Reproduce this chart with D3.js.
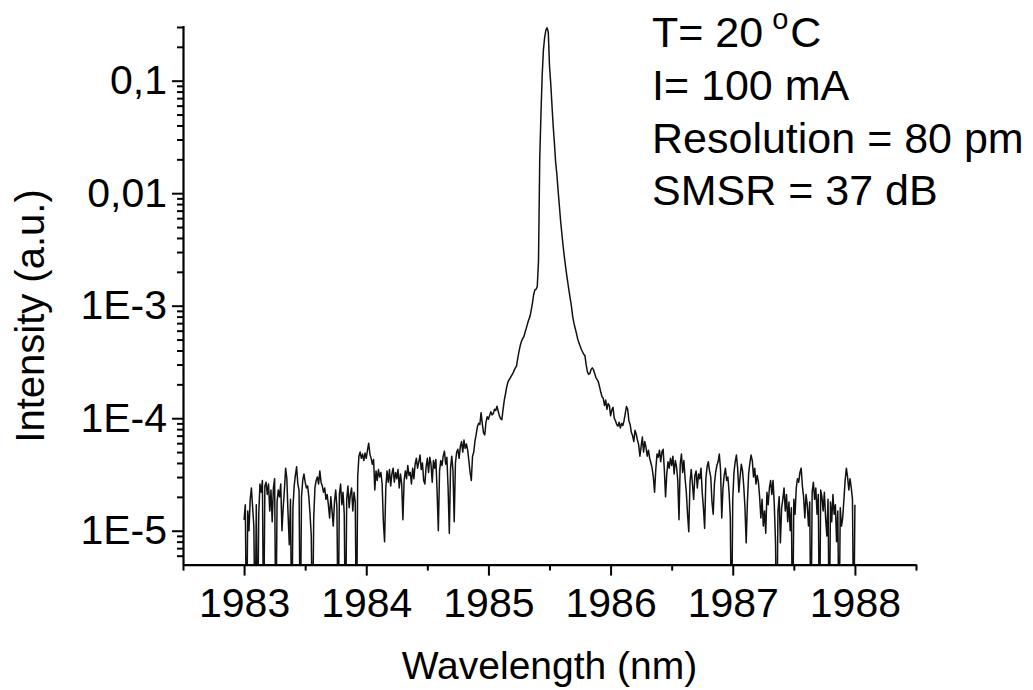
<!DOCTYPE html>
<html><head><meta charset="utf-8">
<script src="https://cdn.jsdelivr.net/npm/d3@7"></script>
<style>
body{margin:0;background:#fff;}
text{font-family:"Liberation Sans", Arial, sans-serif;fill:#000;}
</style>
</head><body>
<svg id="chart" width="1033" height="690"></svg>
<script>
// ---- data ----
const wavelengthStart = 1983.0;   // nm, first sample
const wavelengthStep = 0.01;      // nm, sample spacing
const intensity = [
  // 1983.0x
  1.25e-5,1.7e-5,1e-6,1.5e-5,1.0e-5,1.9e-5,2.4e-5,1.6e-5,1.1e-5,1e-6,
  1.7e-5,1e-6,1.4e-5,2.6e-5,2.2e-5,2.8e-5,1e-6,2.5e-5,2.7e-5,2.1e-5,
  2.6e-5,1.5e-5,2.3e-5,1.2e-5,2.4e-5,2.9e-5,1e-6,1.8e-5,2.3e-5,2.0e-5,
  2.6e-5,1.0e-5,1.6e-5,2.3e-5,3.6e-5,2.9e-5,1.4e-5,7.5e-6,1.9e-5,1e-6,
  1.6e-5,2.5e-5,3.1e-5,3.7e-5,2.6e-5,2.3e-5,1e-6,2.0e-5,2.8e-5,3.2e-5,
  2.7e-5,2.4e-5,2.5e-5,2.0e-5,1.4e-5,9e-6,1e-6,1.3e-5,2.4e-5,2.8e-5,
  3.0e-5,2.6e-5,3.4e-5,2.7e-5,2.5e-5,2.2e-5,2.4e-5,1.9e-5,2.1e-5,1.7e-5,
  1.3e-5,2.0e-5,1.5e-5,1.1e-5,1.8e-5,2.3e-5,1.6e-5,1e-6,2.1e-5,2.6e-5,
  1.7e-5,2.2e-5,1.4e-5,1e-6,1.9e-5,2.5e-5,1.6e-5,2.1e-5,2.4e-5,1.5e-5,
  2.2e-5,1.8e-5,1e-6,3.0e-5,4.6e-5,5.0e-5,4.4e-5,4.8e-5,4.2e-5,4.9e-5,
  // 1984.0x
  4.4e-5,5.2e-5,6.0e-5,4.8e-5,4.4e-5,3.9e-5,4.3e-5,2.3e-5,3.4e-5,2.8e-5,
  3.5e-5,3.0e-5,3.3e-5,2.6e-5,1.2e-5,8e-6,2.4e-5,3.4e-5,2.7e-5,3.5e-5,
  2.5e-5,3.2e-5,3.6e-5,2.7e-5,3.3e-5,2.9e-5,3.5e-5,2.4e-5,3.2e-5,2.6e-5,
  1.25e-5,2.8e-5,3.4e-5,2.9e-5,3.8e-5,3.1e-5,3.3e-5,2.6e-5,3.6e-5,2.9e-5,
  3.9e-5,4.4e-5,3.6e-5,4.1e-5,4.7e-5,3.5e-5,4.0e-5,2.8e-5,2.6e-5,3.7e-5,
  4.4e-5,3.3e-5,4.5e-5,3.9e-5,2.7e-5,4.2e-5,3.6e-5,4.3e-5,2.2e-5,1.0e-5,
  3.4e-5,4.2e-5,3.8e-5,4.6e-5,5.1e-5,3.9e-5,4.5e-5,2.4e-5,9.5e-6,3.6e-5,
  4.6e-5,3.4e-5,1.2e-5,4.0e-5,5.0e-5,5.3e-5,4.4e-5,5.6e-5,6.2e-5,5.0e-5,
  6.4e-5,5.4e-5,5.9e-5,5.2e-5,4.2e-5,3.3e-5,2.8e-5,4.6e-5,5.0e-5,6.3e-5,
  7.2e-5,8.4e-5,9.0e-5,8.8e-5,1.12e-4,8.9e-5,7.4e-5,7.1e-5,9.2e-5,1.03e-4,
  // 1985.0x
  9.8e-5,1.06e-4,1.14e-4,1.07e-4,1.10e-4,1.20e-4,1.17e-4,1.28e-4,1.16e-4,1.05e-4,
  9.9e-5,9.7e-5,1.20e-4,1.45e-4,1.65e-4,1.9e-4,2.1e-4,2.2e-4,2.3e-4,2.4e-4,
  2.5e-4,2.65e-4,2.8e-4,2.9e-4,3.4e-4,3.9e-4,4.4e-4,4.8e-4,5.1e-4,5.3e-4,
  5.8e-4,6.3e-4,6.9e-4,7.5e-4,8.0e-4,9.1e-4,1.05e-3,1.25e-3,1.38e-3,1.40e-3,
  1.48e-3,2.5e-3,2.0e-2,5.0e-2,0.11,0.187,0.24,0.28,0.295,0.27,
  0.135,0.095,0.061,0.040,0.028,0.019,0.0148,0.0107,0.0079,0.0058,
  4.5e-3,3.5e-3,2.8e-3,2.3e-3,1.9e-3,1.6e-3,1.35e-3,1.15e-3,9.8e-4,8.0e-4,
  7.0e-4,6.3e-4,5.7e-4,5.1e-4,4.7e-4,4.4e-4,4.1e-4,3.9e-4,3.7e-4,3.6e-4,
  3.0e-4,2.6e-4,2.45e-4,2.5e-4,2.7e-4,2.8e-4,2.7e-4,2.5e-4,2.3e-4,2.2e-4,
  2.1e-4,1.9e-4,1.7e-4,1.55e-4,1.5e-4,1.3e-4,1.45e-4,1.2e-4,1.35e-4,1.3e-4,
  // 1986.0x
  1.05e-4,1.18e-4,1.25e-4,1.0e-4,9.5e-5,8.8e-5,8.5e-5,9.2e-5,8.2e-5,9.0e-5,
  8.6e-5,9.5e-5,1.1e-4,1.27e-4,1.2e-4,9.5e-5,8.8e-5,7.5e-5,7.0e-5,6.2e-5,
  7.8e-5,7.2e-5,6.4e-5,5.8e-5,4.6e-5,5.6e-5,6.8e-5,5.0e-5,6.2e-5,5.5e-5,
  4.6e-5,5.2e-5,4.4e-5,4.0e-5,3.6e-5,3.0e-5,2.2e-5,3.5e-5,4.8e-5,4.5e-5,
  5.2e-5,4.1e-5,5.0e-5,5.3e-5,3.5e-5,2.0e-5,3.2e-5,4.1e-5,3.6e-5,4.4e-5,
  3.8e-5,4.6e-5,3.2e-5,4.2e-5,3.7e-5,2.8e-5,1.25e-5,3.9e-5,4.8e-5,3.3e-5,
  4.2e-5,2.9e-5,2.2e-5,1.4e-5,9.8e-6,2.7e-5,3.5e-5,2.6e-5,1.9e-5,3.1e-5,
  3.4e-5,2.4e-5,3.2e-5,2.9e-5,3.6e-5,2.2e-5,1.6e-5,1.05e-5,2.9e-5,3.7e-5,
  4.1e-5,3.4e-5,3.0e-5,1.8e-5,1.4e-5,2.6e-5,3.3e-5,3.8e-5,4.1e-5,4.8e-5,
  3.5e-5,1.3e-5,2.4e-5,3.1e-5,3.6e-5,2.8e-5,3.0e-5,2.2e-5,1.3e-5,1e-6,
  // 1987.0x
  1.9e-5,3.3e-5,4.1e-5,4.7e-5,3.6e-5,2.2e-5,3.0e-5,3.9e-5,3.4e-5,2.5e-5,
  1.6e-5,7.8e-6,1.8e-5,3.2e-5,4.0e-5,4.7e-5,4.2e-5,3.0e-5,3.6e-5,2.6e-5,
  3.1e-5,2.7e-5,2.0e-5,1.3e-5,1.9e-5,1.1e-5,1.5e-5,9.5e-6,2.2e-5,1.7e-5,
  2.4e-5,2.8e-5,2.1e-5,2.8e-5,1.7e-5,8e-6,1e-6,1.5e-5,2.0e-5,7.8e-6,
  1.6e-5,1.9e-5,2.4e-5,1.5e-5,2.1e-5,1.2e-5,1.8e-5,1.0e-5,1.6e-5,1e-6,
  1.9e-5,1.4e-5,2.4e-5,2.9e-5,2.7e-5,3.3e-5,3.6e-5,2.5e-5,2.0e-5,1.3e-5,
  2.1e-5,1.7e-5,1.1e-5,1.8e-5,1e-6,2.2e-5,2.7e-5,1.9e-5,2.4e-5,1.4e-5,
  2.1e-5,1e-6,2.3e-5,2.0e-5,1.5e-5,2.2e-5,1.3e-5,9e-6,1.9e-5,1e-6,
  1.8e-5,1.2e-5,2.1e-5,1.4e-5,1.7e-5,8e-6,1.5e-5,1e-6,1.6e-5,1.1e-5,
  1.3e-5,1.9e-5,2.8e-5,3.6e-5,3.0e-5,2.3e-5,2.9e-5,2.4e-5,1.9e-5,1e-6,
  // 1988.00
  1.7e-5
];

const xTicksMajor = [1983, 1984, 1985, 1986, 1987, 1988];
const xTicksMinor = [1982.5, 1983.5, 1984.5, 1985.5, 1986.5, 1987.5, 1988.5];
const yTicksMajor = [1e-5, 1e-4, 1e-3, 0.01, 0.1];
const yTickLabels = ["1E-5", "1E-4", "1E-3", "0,01", "0,1"];
const xTitle = "Wavelength (nm)";
const yTitle = "Intensity (a.u.)";
const notes = ["I= 100 mA", "Resolution = 80 pm", "SMSR = 37 dB"];

// ---- layout ----
const svg = d3.select("#chart");
const plotL = 183, plotR = 916, plotT = 25.4, plotB = 564.6;
const x = d3.scaleLinear().domain([1982.5, 1988.5]).range([plotL, plotR]);
const y = d3.scaleLog().domain([5e-6, 0.31]).range([plotB, plotT]);

// minor log ticks 2..9 per decade within domain
const yTicksMinor = [];
for (let e = -6; e <= -1; e++) {
  for (let m = 2; m <= 9; m++) {
    const v = m * Math.pow(10, e);
    if (v >= 5e-6 && v <= 0.31) yTicksMinor.push(v);
  }
}

svg.append("defs").append("clipPath").attr("id", "plotclip")
  .append("rect").attr("x", plotL).attr("y", plotT - 2)
  .attr("width", plotR - plotL).attr("height", plotB - plotT + 2);

// spectrum line
const line = d3.line()
  .x((d, i) => x(wavelengthStart + i * wavelengthStep))
  .y(d => y(d));
svg.append("path")
  .datum(intensity)
  .attr("clip-path", "url(#plotclip)")
  .attr("fill", "none")
  .attr("stroke", "#111")
  .attr("stroke-width", 1.5)
  .attr("stroke-linejoin", "round")
  .attr("d", line);

function styleAxis(g) {
  g.select(".domain").attr("stroke", "#000").attr("stroke-width", 2.2);
  g.selectAll(".tick line").attr("stroke", "#000").attr("stroke-width", 2);
}

// minor ticks
svg.append("g").attr("transform", `translate(${plotL},0)`)
  .call(d3.axisLeft(y).tickValues(yTicksMinor).tickFormat("").tickSize(6).tickSizeOuter(0))
  .call(g => g.select(".domain").remove())
  .call(styleAxis);
svg.append("g").attr("transform", `translate(0,${plotB})`)
  .call(d3.axisBottom(x).tickValues(xTicksMinor).tickFormat("").tickSize(6).tickSizeOuter(0))
  .call(g => g.select(".domain").remove())
  .call(styleAxis);

// major axes
const yAxisG = svg.append("g").attr("transform", `translate(${plotL},0)`)
  .call(d3.axisLeft(y).tickValues(yTicksMajor)
    .tickFormat((d, i) => yTickLabels[i]).tickSize(11).tickSizeOuter(0).tickPadding(5))
  .call(styleAxis);
yAxisG.selectAll(".tick text").attr("font-size", 41).attr("fill", "#000")
  .attr("font-family", "Liberation Sans, Arial, sans-serif");

const xAxisG = svg.append("g").attr("transform", `translate(0,${plotB})`)
  .call(d3.axisBottom(x).tickValues(xTicksMajor)
    .tickFormat(d3.format("d")).tickSize(11).tickSizeOuter(0).tickPadding(12))
  .call(styleAxis);
xAxisG.selectAll(".tick text").attr("font-size", 41).attr("fill", "#000")
  .attr("font-family", "Liberation Sans, Arial, sans-serif");

// axis titles
svg.append("text").attr("x", (plotL + plotR) / 2).attr("y", 679)
  .attr("text-anchor", "middle").attr("font-size", 39).text(xTitle);
svg.append("text").attr("transform", "translate(43.5,316) rotate(-90)")
  .attr("text-anchor", "middle").attr("font-size", 40).text(yTitle);

// annotation: "T= 20 °C" with raised small o
const t0 = svg.append("text").attr("x", 652).attr("y", 46.7).attr("font-size", 43);
t0.append("tspan").text("T= 20");
t0.append("tspan").attr("font-size", 29).attr("dy", -18).attr("dx", 9).text("o");
t0.append("tspan").attr("dy", 18).attr("dx", 2).text("C");
const noteY = [100, 153, 205];
notes.forEach((s, i) => {
  svg.append("text").attr("x", 652).attr("y", noteY[i]).attr("font-size", 43).text(s);
});
</script>
</body></html>
